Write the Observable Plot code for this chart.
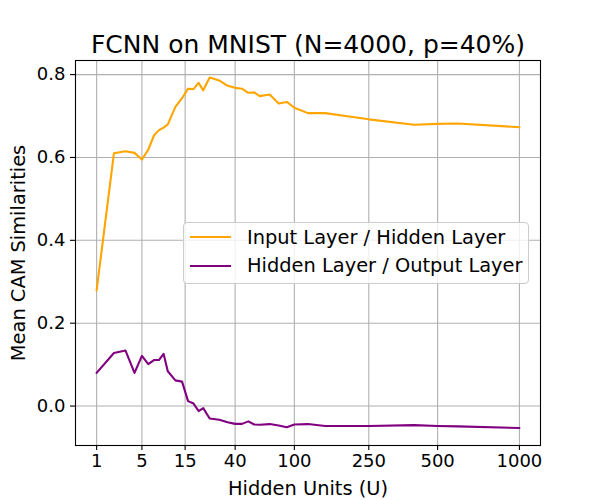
<!DOCTYPE html>
<html>
<head>
<meta charset="utf-8">
<script src="https://cdn.jsdelivr.net/npm/d3@7"></script>
<script src="https://cdn.jsdelivr.net/npm/@observablehq/plot@0.6"></script>
<style>
  html, body { margin: 0; padding: 0; background: white; }
  #wrap { position: relative; width: 600px; height: 500px; font-family: "DejaVu Sans", sans-serif; }
  #legend { position: absolute; left: 183px; top: 222px; width: 346px; height: 62px; box-sizing: border-box;
            border: 1px solid #cccccc; border-radius: 4px; background: rgba(255,255,255,0.8); }
  .row { position: absolute; left: 6px; height: 28px; display: flex; align-items: center;
         font-size: 19.4px; color: black; white-space: nowrap; }
  .sw { width: 41px; height: 2.1px; margin-right: 16px; }
</style>
</head>
<body>
<div id="wrap"></div>
<script>
const hiddenUnits = [1,2,3,4,5,6,7,8,9,10,12,14,16,18,20,22,25,30,35,40,45,50,55,60,70,80,90,100,120,150,200,250,400,500,600,1000];
const inputHidden = [0.279,0.610,0.615,0.611,0.595,0.619,0.653,0.666,0.672,0.680,0.722,0.743,0.766,0.765,0.780,0.762,0.793,0.786,0.773,0.768,0.766,0.756,0.757,0.748,0.752,0.730,0.734,0.720,0.707,0.707,0.699,0.692,0.679,0.681,0.682,0.673];
const hiddenOutput = [0.080,0.128,0.134,0.080,0.121,0.101,0.111,0.111,0.126,0.084,0.062,0.059,0.012,0.006,-0.012,-0.005,-0.030,-0.033,-0.039,-0.043,-0.043,-0.037,-0.0445,-0.045,-0.0435,-0.047,-0.051,-0.0445,-0.0435,-0.048,-0.048,-0.048,-0.046,-0.048,-0.049,-0.053];
const xTicks = [1,5,15,40,100,250,500,1000];
const yTicks = [0,0.2,0.4,0.6,0.8];
const seriesNames = ["Input Layer / Hidden Layer", "Hidden Layer / Output Layer"];
const seriesColors = ["orange", "purple"];
const titleText = "FCNN on MNIST (N=4000, p=40%)";
const xLabel = "Hidden Units (U)";
const yLabel = "Mean CAM Similarities";

const rows = hiddenUnits.flatMap((u, i) => [
  {u, v: inputHidden[i], s: seriesNames[0]},
  {u, v: hiddenOutput[i], s: seriesNames[1]}
]);

const chart = Plot.plot({
  width: 600, height: 500,
  marginLeft: 75, marginRight: 60, marginTop: 60, marginBottom: 55,
  style: {fontFamily: "DejaVu Sans", fontSize: "18px", background: "white", color: "black"},
  x: {type: "pow", exponent: 0.25, domain: [0.3497, 1174.4]},
  y: {domain: [-0.0952, 0.834]},
  color: {domain: seriesNames, range: seriesColors},
  marks: [
    Plot.gridX(xTicks, {stroke: "#b0b0b0", strokeOpacity: 1, strokeWidth: 1.1}),
    Plot.gridY(yTicks, {stroke: "#b0b0b0", strokeOpacity: 1, strokeWidth: 1.1}),
    Plot.line(rows, {x: "u", y: "v", z: "s", stroke: "s", strokeWidth: 2.1}),
    Plot.frame({stroke: "black", strokeWidth: 1.1}),
    Plot.axisX(xTicks, {tickSize: 5, tickPadding: 4, label: null, fontSize: 18, strokeWidth: 1.1, tickFormat: d => String(d)}),
    Plot.axisY(yTicks, {tickSize: 5, tickPadding: 5, label: null, fontSize: 18, strokeWidth: 1.1, tickFormat: d3.format(".1f")}),
    Plot.text([titleText], {frameAnchor: "top", textAnchor: "middle", lineAnchor: "bottom", dy: -8, fontSize: 25, fill: "black"}),
    Plot.text([xLabel], {frameAnchor: "bottom", textAnchor: "middle", lineAnchor: "bottom", dy: 49, fontSize: 19.4, fill: "black"}),
    Plot.text([yLabel], {frameAnchor: "left", textAnchor: "middle", rotate: -90, dx: -57, fontSize: 19.4, fill: "black"})
  ]
});

const wrap = document.getElementById("wrap");
wrap.appendChild(chart);

const legend = document.createElement("div");
legend.id = "legend";
const rowCenters = [15, 43.7];
seriesNames.forEach((name, i) => {
  const row = document.createElement("div");
  row.className = "row";
  row.style.top = (rowCenters[i] - 14 - 1) + "px";
  const sw = document.createElement("span");
  sw.className = "sw";
  sw.style.background = seriesColors[i];
  const label = document.createElement("span");
  label.textContent = name;
  row.appendChild(sw);
  row.appendChild(label);
  legend.appendChild(row);
});
wrap.appendChild(legend);
</script>
</body>
</html>
